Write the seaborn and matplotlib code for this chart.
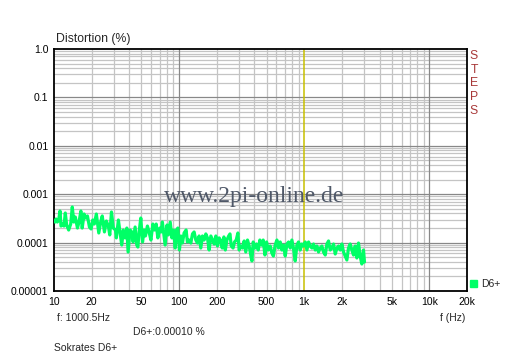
import matplotlib
matplotlib.use("Agg")
import matplotlib.pyplot as plt
import matplotlib.patches as mpatches
import pandas as pd
import seaborn as sns

sns.set_theme(style="white")
plt.rcParams['font.family'] = ['Liberation Sans', 'DejaVu Sans']

# Messwerte (Frequenz in Hz, Klirrfaktor in %)
freq_hz = [
    10.19, 10.38, 10.63, 10.9, 11.17, 11.38, 11.74, 12.02, 12.31, 12.62,
    13.1, 13.6, 14.0, 14.4, 14.8, 15.4, 15.85, 16.4, 16.8, 17.4,
    17.9, 18.5, 19.2, 19.8, 20.4, 21.0, 21.8, 22.8, 23.6, 24.3,
    25.3, 26.2, 27.2, 27.9, 28.8, 29.8, 31.0, 31.5, 32.7, 33.7,
    34.8, 35.8, 37.0, 38.2, 39.1, 40.6, 41.8, 42.9, 44.5, 45.9,
    46.8, 47.9, 49.4, 51.0, 52.5, 53.8, 55.8, 57.5, 59.5, 61.7,
    63.6, 65.6, 67.6, 70.1, 71.8, 73.5, 77.3, 80.1, 82.1, 84.9,
    87.6, 90.2, 93.1, 95.3, 97.7, 100.6, 103.2, 106.3, 109.6, 113.7,
    116.5, 120.2, 124.1, 127.9, 131.8, 136, 140.2, 144.5, 149, 153.6,
    158.5, 163.5, 168.5, 173.8, 179.3, 184.8, 190.5, 196.5, 202.6, 208.9,
    214.2, 221, 228, 234, 241, 249, 255, 261, 270, 277,
    286, 295, 302, 311, 321, 331, 341, 352, 363, 375,
    382, 391, 403, 415, 429, 442, 456, 470, 485, 500,
    515, 535, 551, 567, 586, 605, 623, 643, 663, 684,
    705, 727, 750, 773, 797, 820, 847, 874, 900, 929,
    957, 987, 1019, 1051, 1083, 1117, 1152, 1187, 1225, 1263,
    1301, 1342, 1384, 1426, 1472, 1518, 1564, 1614, 1664, 1715,
    1770, 1825, 1880, 1940, 2000, 2061, 2126, 2192, 2259, 2330,
    2403, 2477, 2555, 2634, 2715, 2800, 2887, 2976, 3030,
]
d6_percent = [
    2.66e-4, 3.07e-4, 2.66e-4, 2.93e-4, 4.50e-4, 2.20e-4, 2.42e-4, 2.20e-4, 4.09e-4, 2.31e-4,
    1.82e-4, 2.42e-4, 5.44e-4, 2.66e-4, 3.38e-4, 2.00e-4, 2.66e-4, 4.50e-4, 2.00e-4, 3.90e-4,
    3.22e-4, 3.55e-4, 2.10e-4, 1.91e-4, 2.93e-4, 2.42e-4, 3.90e-4, 1.58e-4, 2.66e-4, 3.55e-4,
    1.66e-4, 2.79e-4, 2.20e-4, 1.44e-4, 4.29e-4, 2.00e-4, 1.82e-4, 1.25e-4, 2.93e-4, 1.66e-4,
    8.9e-5, 1.82e-4, 1.25e-4, 2.00e-4, 6.39e-5, 1.82e-4, 1.66e-4, 1.03e-4, 2.10e-4, 8.9e-5,
    8.1e-5, 1.66e-4, 3.22e-4, 1.03e-4, 1.82e-4, 1.37e-4, 2.20e-4, 1.66e-4, 1.13e-4, 2.42e-4,
    1.82e-4, 2.42e-4, 1.25e-4, 2.00e-4, 1.66e-4, 2.66e-4, 8.9e-5, 2.31e-4, 1.44e-4, 2.66e-4,
    1.25e-4, 1.82e-4, 7.73e-5, 1.82e-4, 2.00e-4, 7.03e-5, 1.37e-4, 9.8e-5, 1.58e-4, 1.82e-4,
    1.03e-4, 1.13e-4, 9.8e-5, 1.51e-4, 1.66e-4, 1.13e-4, 9.8e-5, 1.37e-4, 7.73e-5, 1.37e-4,
    1.13e-4, 1.51e-4, 1.25e-4, 7.03e-5, 1.37e-4, 1.13e-4, 9.35e-5, 1.37e-4, 8.5e-5, 1.25e-4,
    1.13e-4, 7.73e-5, 1.31e-4, 7.03e-5, 1.13e-4, 1.37e-4, 1.51e-4, 8.5e-5, 7.73e-5, 1.03e-4,
    1.13e-4, 1.58e-4, 7.03e-5, 8.5e-5, 7.73e-5, 1.08e-4, 6.39e-5, 1.13e-4, 8.5e-5, 5.28e-5,
    4.17e-5, 1.03e-4, 7.73e-5, 9.35e-5, 7.03e-5, 1.13e-4, 8.9e-5, 1.13e-4, 5.54e-5, 1.03e-4,
    7.03e-5, 8.5e-5, 6.1e-5, 5.28e-5, 8.9e-5, 1.13e-4, 7.73e-5, 1.03e-4, 7.03e-5, 8.9e-5,
    5.28e-5, 9.35e-5, 1.03e-4, 7.73e-5, 1.13e-4, 7.73e-5, 4.17e-5, 8.9e-5, 1.03e-4, 7.03e-5,
    9.35e-5, 8.5e-5, 1.03e-4, 7.03e-5, 1.03e-4, 8.5e-5, 7.73e-5, 9.35e-5, 7.03e-5, 8.5e-5,
    6.39e-5, 7.73e-5, 8.5e-5, 6.39e-5, 5.54e-5, 9.35e-5, 1.08e-4, 7.03e-5, 7.73e-5, 9.35e-5,
    5.81e-5, 7.73e-5, 8.5e-5, 7.03e-5, 9.35e-5, 6.39e-5, 5.28e-5, 4.37e-5, 7.73e-5, 9.35e-5,
    7.03e-5, 5.54e-5, 8.5e-5, 4.81e-5, 9.8e-5, 5.28e-5, 3.61e-5, 7.03e-5, 3.97e-5,
]

x_ticks = [10, 20, 50, 100, 200, 500, 1000, 2000, 5000, 10000, 20000]
x_labels = ['10', '20', '50', '100', '200', '500', '1k', '2k', '5k', '10k', '20k']
y_ticks = [1e-5, 1e-4, 1e-3, 1e-2, 1e-1, 1.0]
y_labels = ['0.00001', '0.0001', '0.001', '0.01', '0.1', '1.0']
cursor_hz = 1000

GREEN = '#00ff66'
LIGHT = '#c4c4c4'
DARK = '#888888'

df = pd.DataFrame({'f': freq_hz, 'thd': d6_percent})

fig = plt.figure(figsize=(5.12, 3.58), dpi=100)
ax = fig.add_axes([54 / 512, 1 - 291 / 358, 413 / 512, 242 / 358])
ax.set_xscale('log')
ax.set_yscale('log')
ax.set_xlim(10, 20000)
ax.set_ylim(1e-5, 1.0)

# Raster: feine Linien bei 2..9, kräftigere bei Dekaden
for dec in [10, 100, 1000, 10000]:
    for m in range(2, 10):
        if dec * m < 20000:
            ax.axvline(dec * m, color=LIGHT, lw=0.9, zorder=0)
for dec in [1e-5, 1e-4, 1e-3, 1e-2, 1e-1]:
    for m in range(2, 10):
        ax.axhline(dec * m, color=LIGHT, lw=0.9, zorder=0)
for v in [100, 10000]:
    ax.axvline(v, color=DARK, lw=0.9, zorder=0)
for v in [1e-4, 1e-3, 1e-2, 1e-1]:
    ax.axhline(v, color=DARK, lw=0.9, zorder=0)

sns.lineplot(data=df, x='f', y='thd', ax=ax, color=GREEN, lw=2.3,
             estimator=None, sort=False, zorder=3)
ax.axvline(cursor_hz, color='#c8c000', lw=1.1, zorder=2)

ax.set_xticks(x_ticks)
ax.set_xticklabels(x_labels)
ax.set_yticks(y_ticks)
ax.set_yticklabels(y_labels)
ax.minorticks_off()
ax.tick_params(length=0, labelsize=7.5, colors='black', pad=4)
ax.set_xlabel('')
ax.set_ylabel('')
for s in ax.spines.values():
    s.set_color('black')
    s.set_linewidth(1.3)

ax.text(0.484, 0.39, 'www.2pi-online.de', transform=ax.transAxes, ha='center', va='center',
        fontsize=17, color='#4f5868', family=['Liberation Serif', 'DejaVu Serif'], zorder=4)

fig.text(56 / 512, 1 - 39 / 358, 'Distortion (%)', fontsize=8.8, va='center', ha='left')
for i, ch in enumerate('STEPS'):
    fig.text(474 / 512, 1 - (56 + i * 13.7) / 358, ch, fontsize=8.8, color='#a83838',
             ha='center', va='center')

fig.text(57 / 512, 1 - 318 / 358, 'f: 1000.5Hz', fontsize=7.5, va='center')
fig.text(440 / 512, 1 - 318 / 358, 'f (Hz)', fontsize=7.5, va='center')
fig.text(133 / 512, 1 - 332 / 358, 'D6+:0.00010 %', fontsize=7.5, va='center')
fig.text(54 / 512, 1 - 348 / 358, 'Sokrates D6+', fontsize=7.5, va='center')

handle = mpatches.Patch(color=GREEN, label='D6+')
fig.legend(handles=[handle], loc='center left', bbox_to_anchor=(470 / 512, 1 - 284 / 358),
           frameon=False, fontsize=7.5, handlelength=0.7, handleheight=0.7,
           handletextpad=0.4, borderaxespad=0, borderpad=0)

fig.savefig('out.png', dpi=100, facecolor='white')
plt.close(fig)
